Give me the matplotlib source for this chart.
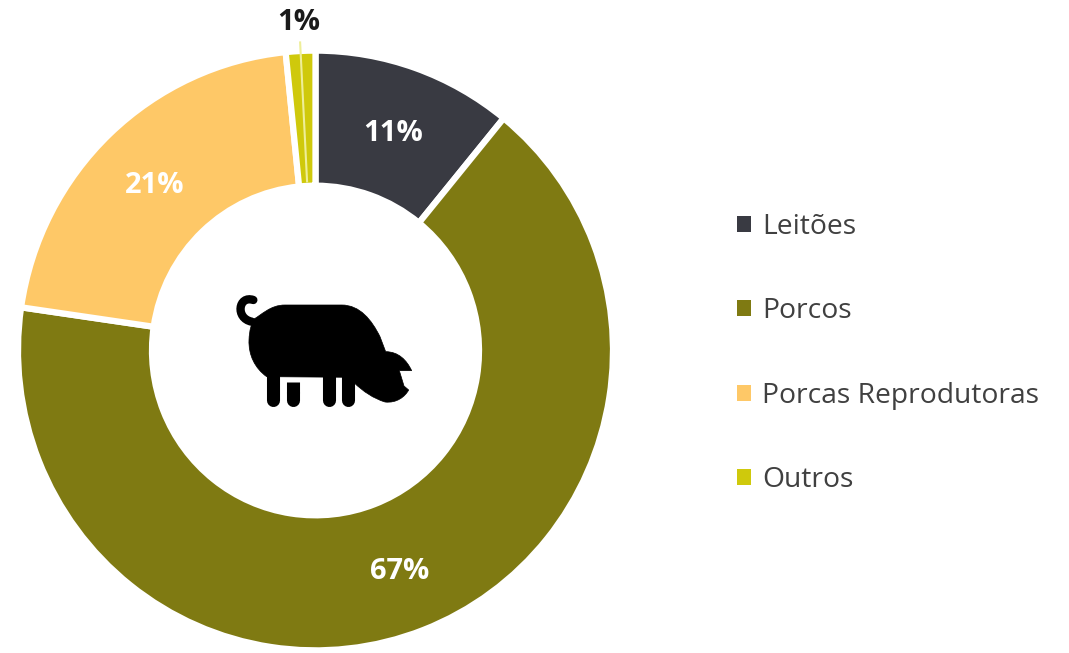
import numpy as np
import matplotlib
matplotlib.use("Agg")
import matplotlib.pyplot as plt
from matplotlib.path import Path
from matplotlib.patches import PathPatch
from matplotlib.lines import Line2D

labels = ["Leitões", "Porcos", "Porcas Reprodutoras", "Outros"]
values = [10.9, 66.4, 21.1, 1.6]
pct_labels = ["11%", "67%", "21%", "1%"]
pct_colors = ["white", "white", "white", "#1a1a1a"]
colors = ["#393A42", "#7F7A12", "#FEC867", "#CFC90C"]
W, H = 1069, 653

plt.rcParams['font.family'] = ['Open Sans', 'DejaVu Sans']
fig = plt.figure(figsize=(W/100, H/100), dpi=100)
ax = fig.add_axes([0, 0, 1, 1])

cx, cy, R, r = 315.5, H-350.5, 297.5, 163.5
stretch = 1.008   # the reference ring is a little taller than wide
wedges, _ = ax.pie(values, colors=colors, startangle=90, counterclock=False,
                   center=(cx, cy), radius=R,
                   wedgeprops=dict(width=R-r, edgecolor="white", linewidth=4.5),
                   frame=True)
ax.set_xlim(0, W)
ax.set_ylim(cy - (H-350.5)/stretch, cy + 350.5/stretch)
ax.set_aspect("auto")
ax.axis("off")

# percentage labels
for w, t, c, d in zip(wedges, pct_labels, pct_colors, [232, 232, 232, 329]):
    a = np.deg2rad((w.theta1 + w.theta2) / 2)
    ax.text(cx + d*np.cos(a), cy + d*np.sin(a) - 3.5, t, color=c, ha="center", va="center",
            fontsize=21, fontweight="bold", family=["Open Sans", "DejaVu Sans"], zorder=5)

# pale leader line of the smallest slice
a = np.deg2rad((wedges[3].theta1 + wedges[3].theta2) / 2)
ax.plot([cx + 306*np.cos(a), cx + 168*np.cos(a)], [cy + 306*np.sin(a), cy + 168*np.sin(a)],
        color="#EEEE99", lw=1.5, zorder=4)

# pig icon (zoom coordinates: 3x, origin 220,280)
def P(x, y):
    return (220 + x/3, cy + (350.5 - (280 + y/3))/stretch)

M, L, C = Path.MOVETO, Path.LINETO, Path.CURVE4
body = [
    (M, (100, 118)),
    (C, (125, 105)), (C, (150, 75)), (C, (195, 75)),
    (L, (365, 75)),
    (C, (420, 75)), (C, (455, 120)), (C, (480, 170)),
    (L, (497, 215)),
    (C, (535, 215)), (C, (560, 240)), (C, (575, 272)),
    (L, (538, 272)),
    (L, (552, 318)),
    (L, (566, 330)),
    (C, (555, 350)), (C, (530, 370)), (C, (495, 366)),
    (C, (460, 355)), (C, (430, 335)), (C, (402, 308)),
    (L, (402, 292)),
    (L, (140, 290)),
    (C, (105, 265)), (C, (85, 225)), (C, (87, 180)),
    (C, (88, 150)), (C, (95, 130)), (C, (100, 118)),
]
codes = [c for c, _ in body]
verts = [P(*p) for _, p in body]
ax.add_patch(PathPatch(Path(verts, codes), fc="black", ec="black", lw=0.5, zorder=6))

# legs
for x, y0 in [(159, 270), (218, 335), (326, 270), (384, 270)]:
    x0, y_top = P(x, y0)
    _, y_bot = P(x, 361)
    ax.add_line(Line2D([x0, x0], [y_top, y_bot], color="black", lw=9.4,
                       solid_capstyle="round", zorder=6))
# flat top of the short leg
x0, y0 = P(218, 340)
_, y1 = P(218, 306)
ax.add_line(Line2D([x0, x0], [y0, y1], color="black", lw=9.4,
                   solid_capstyle="butt", zorder=6))

# tail
tail = [(M, (100, 60)), (C, (55, 45)), (C, (45, 115)), (C, (95, 125))]
ax.add_patch(PathPatch(Path([P(*p) for _, p in tail], [c for c, _ in tail]),
                       fc="none", ec="black", lw=6, capstyle="round", zorder=6))

# legend
leg = ax.legend(wedges, labels, loc="center left", bbox_to_anchor=(737/W, 1-353.5/H),
                bbox_transform=fig.transFigure, frameon=False, fontsize=20.3,
                handlelength=0.5, handleheight=0.5, handletextpad=0.39, labelspacing=2.0,
                labelcolor="#404040", borderpad=0, borderaxespad=0)
for h in leg.legend_handles:
    h.set_linewidth(0)

fig.savefig("out.png", dpi=100)
